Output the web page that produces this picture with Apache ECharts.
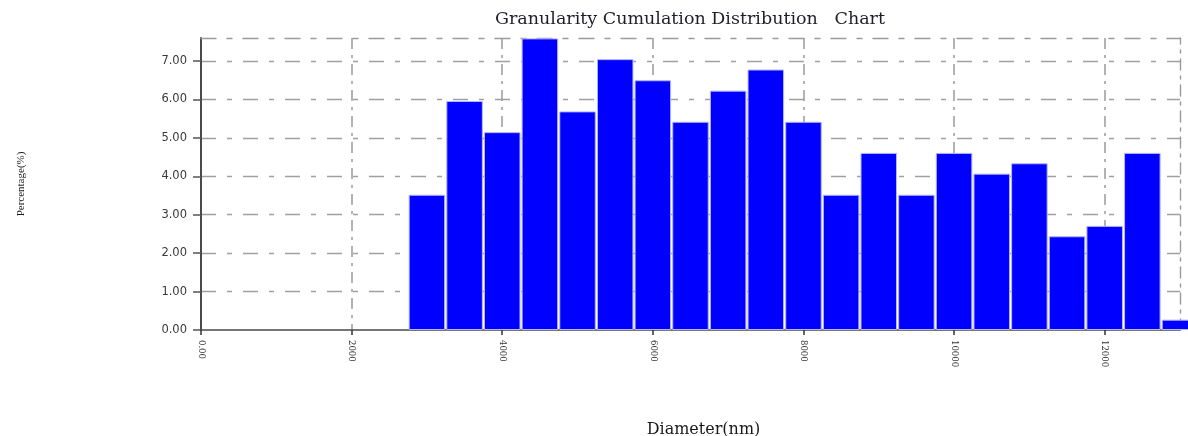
<!DOCTYPE html>
<html>
<head>
<meta charset="utf-8">
<script src="https://cdn.jsdelivr.net/npm/echarts@6/dist/echarts.min.js"></script>
<style>
  html, body { margin: 0; padding: 0; background: #ffffff; }
  #chart { width: 1188px; height: 436px; }
</style>
</head>
<body>
<div id="chart"></div>
<script>
// Particle size classes (nm) and the share of particles in each class (%)
const diameters = [3000, 3500, 4000, 4500, 5000, 5500, 6000, 6500, 7000, 7500,
                   8000, 8500, 9000, 9500, 10000, 10500, 11000, 11500, 12000, 12500, 13000];
const percentages = [3.52, 5.96, 5.15, 7.59, 5.69, 7.05, 6.50, 5.42, 6.23, 6.78,
                     5.42, 3.52, 4.61, 3.52, 4.61, 4.07, 4.34, 2.44, 2.71, 4.61, 0.27];

// Axis ranges and labelled ticks
const xRange = [0, 13000];
const yRange = [0, 7.6];
const xTicks = [0, 2000, 4000, 6000, 8000, 10000, 12000];
const yTicks = [0, 1, 2, 3, 4, 5, 6, 7];

const titleText = 'Granularity Cumulation Distribution   Chart';
const xName = 'Diameter(nm)';
const yName = 'Percentage(%)';

const chart = echarts.init(document.getElementById('chart'), null, { renderer: 'canvas' });

const gridDashH = [15, 11, 5, 11];
const gridDashV = [11, 6, 3, 6];

// Plain dashed axis used as the top / right frame of the plot area
function frameAxis(position, range, dash) {
  return {
    type: 'value',
    position: position,
    min: range[0],
    max: range[1],
    axisLine: { show: true, onZero: false, lineStyle: { color: '#9a9a9a', width: 1.4, type: dash } },
    axisTick: { show: false },
    axisLabel: { show: false },
    splitLine: { show: false }
  };
}

chart.setOption({
  animation: false,
  backgroundColor: '#ffffff',
  title: {
    text: titleText,
    left: 690,
    top: 10,
    padding: 0,
    textAlign: 'center',
    textStyle: {
      fontFamily: 'DejaVu Serif',
      fontSize: 17.5,
      fontWeight: 'normal',
      color: '#1e1e28'
    }
  },
  grid: {
    left: 201,
    right: 8,
    top: 38,
    bottom: 106,
    outerBoundsMode: 'none'
  },
  xAxis: [{
    type: 'value',
    position: 'bottom',
    min: xRange[0],
    max: xRange[1],
    interval: 2000,
    name: xName,
    nameLocation: 'middle',
    nameGap: 92,
    nameTextStyle: {
      fontFamily: 'DejaVu Serif',
      fontSize: 16,
      color: '#1a1a1a',
      padding: [0, 0, 0, 26]
    },
    axisLine: { show: true, onZero: false, lineStyle: { color: '#4a4a4a', width: 1.5 } },
    axisTick: {
      show: true,
      length: 5,
      customValues: xTicks,
      lineStyle: { color: '#333333', width: 1.5 }
    },
    axisLabel: {
      customValues: xTicks,
      rotate: -90,
      margin: 10,
      fontFamily: 'DejaVu Serif',
      fontSize: 8.5,
      color: '#333333',
      formatter: v => (v === 0 ? '0.00' : String(v))
    },
    splitLine: {
      show: true,
      showMinLine: false,
      lineStyle: { color: '#9a9a9a', width: 1.5, type: gridDashV }
    }
  }, frameAxis('top', xRange, gridDashH)],
  yAxis: [{
    type: 'value',
    position: 'left',
    min: yRange[0],
    max: yRange[1],
    interval: 1,
    name: yName,
    nameLocation: 'middle',
    nameRotate: 90,
    nameGap: 174,
    nameTextStyle: {
      fontFamily: 'Liberation Serif',
      fontSize: 11,
      color: '#1a1a1a'
    },
    axisLine: { show: true, lineStyle: { color: '#4a4a4a', width: 2 } },
    axisTick: {
      show: true,
      length: 8,
      customValues: yTicks,
      lineStyle: { color: '#555555', width: 1.5 }
    },
    axisLabel: {
      customValues: yTicks,
      margin: 14,
      fontFamily: 'DejaVu Sans',
      fontSize: 11.5,
      color: '#3a3a3a',
      formatter: v => v.toFixed(2)
    },
    splitLine: {
      show: true,
      showMinLine: false,
      lineStyle: { color: '#a0a0a0', width: 1.3, type: gridDashH }
    }
  }, frameAxis('right', yRange, gridDashV)],
  series: [{
    type: 'bar',
    xAxisIndex: 0,
    yAxisIndex: 0,
    data: diameters.map((d, i) => [d, percentages[i]]),
    barWidth: '97%',
    clip: false,
    itemStyle: {
      color: '#0000ff',
      borderColor: '#b4b4ff',
      borderWidth: 1
    }
  }]
});
</script>
</body>
</html>
